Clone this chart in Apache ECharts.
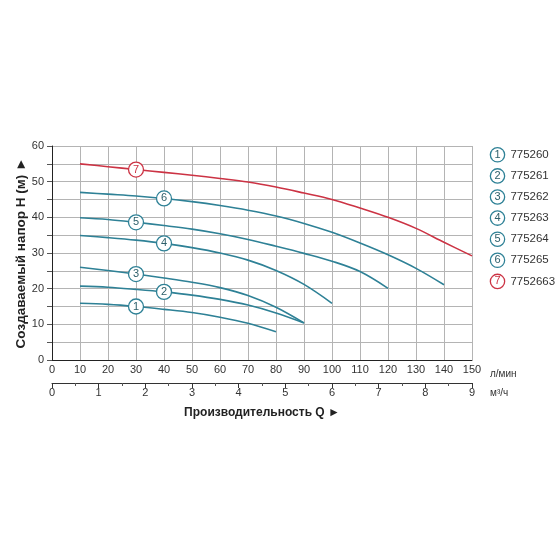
<!DOCTYPE html>
<html><head><meta charset="utf-8">
<script src="https://cdn.jsdelivr.net/npm/echarts@6/dist/echarts.min.js"></script>
<style>html,body{margin:0;padding:0;background:#fff}#c{width:560px;height:560px}</style>
</head><body><div id="c"></div>
<script>
const flow = [10,20,30,40,50,60,70,80,90,100,110,120,130,140,150];
const names = ['775260','775261','775262','775263','775264','775265','7752663'];
const h1 = [15.9,15.6,15.0,14.2,13.3,12.0,10.3,7.9];
const h2 = [20.7,20.4,19.8,19.1,18.2,17.0,15.4,13.2,10.4];
const h3 = [26.0,25.1,24.1,23.0,21.8,20.3,18.1,14.8,10.4];
const h4 = [34.9,34.3,33.6,32.7,31.5,30.0,28.0,25.1,21.2,15.9];
const h5 = [39.9,39.4,38.6,37.7,36.7,35.4,33.8,31.9,29.9,27.7,24.8,20.1];
const h6 = [47.0,46.5,46.0,45.3,44.4,43.3,42.0,40.4,38.3,35.8,32.8,29.5,25.7,21.1];
const h7 = [55.0,54.2,53.4,52.6,51.8,50.9,49.9,48.5,46.8,45.0,42.6,40.0,36.9,33.0,29.2];
const heads = [h1,h2,h3,h4,h5,h6,h7];
const badgeIdx = [2,3,2,3,2,3,2]; // labelled points at 30 / 40 l/min
const m3hTicks = [0,1,2,3,4,5,6,7,8,9];

const TEAL = '#2e8196', TEALTXT = '#2d5f6a', RED = '#cc3344';
const FONT = 'Liberation Sans, Arial, sans-serif';

const series = heads.map((vals, s) => {
  const col = s === 6 ? RED : TEAL;
  const i = badgeIdx[s];
  return {
    name: names[s], type: 'line', smooth: 0.35, symbol: 'none',
    xAxisIndex: 0, yAxisIndex: 0,
    lineStyle: {color: col, width: 1.6}, itemStyle: {color: col},
    data: vals.map((v, k) => [flow[k], v]),
    markPoint: {
      symbol: 'circle', symbolSize: 15, silent: true,
      itemStyle: {color: '#fff', borderColor: col, borderWidth: 1.3},
      label: {show: true, position: 'inside', formatter: String(s + 1), fontSize: 11, fontFamily: FONT, color: s === 6 ? RED : TEALTXT},
      data: [{coord: [flow[i], vals[i]]}]
    }
  };
});

const chart = echarts.init(document.getElementById('c'));
chart.setOption({
  animation: false,
  textStyle: {fontFamily: FONT},
  grid: {left: 52, right: 88, top: 146, bottom: 200},
  legend: {
    orient: 'vertical', left: 481, top: 142, itemGap: 5.5, itemWidth: 0, itemHeight: 14,
    icon: 'none', selectedMode: false,
    data: names,
    formatter: name => {
      const i = names.indexOf(name);
      return '{' + (i === 6 ? 'r' : 't') + '|' + (i + 1) + '}  ' + name;
    },
    textStyle: {
      color: '#333', fontSize: 11.5, fontFamily: FONT,
      rich: {
        t: {width: 13, height: 13, lineHeight: 13, align: 'center', borderRadius: 7, borderWidth: 1.3, borderColor: TEAL, color: TEALTXT, fontSize: 11, backgroundColor: '#fff'},
        r: {width: 13, height: 13, lineHeight: 13, align: 'center', borderRadius: 7, borderWidth: 1.3, borderColor: RED, color: RED, fontSize: 11, backgroundColor: '#fff'}
      }
    }
  },
  xAxis: [
    {
      type: 'value', min: 0, max: 150, interval: 10, position: 'bottom',
      name: 'л/мин', nameLocation: 'end', nameGap: 18,
      nameTextStyle: {fontSize: 10, color: '#333', verticalAlign: 'top', padding: [9, 0, 0, 0]},
      axisLine: {show: true, lineStyle: {color: '#222', width: 1}},
      axisTick: {show: false},
      axisLabel: {margin: 4, fontSize: 11, color: '#333'},
      splitLine: {show: true, lineStyle: {color: '#b4b4b4', width: 1}}
    },
    {
      type: 'value', min: 0, max: 9, interval: 1, position: 'bottom', offset: 23,
      data: m3hTicks,
      name: 'Производительность Q ►', nameLocation: 'middle', nameGap: 24,
      nameTextStyle: {fontSize: 12, fontWeight: 'bold', color: '#222'},
      axisLine: {show: true, onZero: false, lineStyle: {color: '#333', width: 1}},
      axisTick: {show: true, length: 5, lineStyle: {color: '#333'}},
      minorTick: {show: true, splitNumber: 2, length: 3, lineStyle: {color: '#555'}},
      axisLabel: {margin: 4, fontSize: 11, color: '#333'},
      splitLine: {show: false}
    }
  ],
  yAxis: {
    type: 'value', min: 0, max: 60, interval: 5,
    name: 'Создаваемый напор Н (м) ►', nameLocation: 'middle', nameGap: 24, nameRotate: 90,
    nameMoveOverlap: false,
    nameTextStyle: {fontSize: 13.5, fontWeight: 'bold', color: '#222'},
    axisLine: {show: true, lineStyle: {color: '#222', width: 1}},
    axisTick: {show: true, length: 5, lineStyle: {color: '#555'}},
    axisLabel: {margin: 8, fontSize: 11, color: '#333', formatter: v => (v % 10 === 0 ? v : '')},
    splitLine: {show: true, lineStyle: {color: '#b4b4b4', width: 1}}
  },
  graphic: [
    {type: 'text', left: 490, top: 388, style: {text: 'м³/ч', fontSize: 10, fill: '#333', fontFamily: FONT}}
  ],
  series: series
});
</script>
</body></html>
